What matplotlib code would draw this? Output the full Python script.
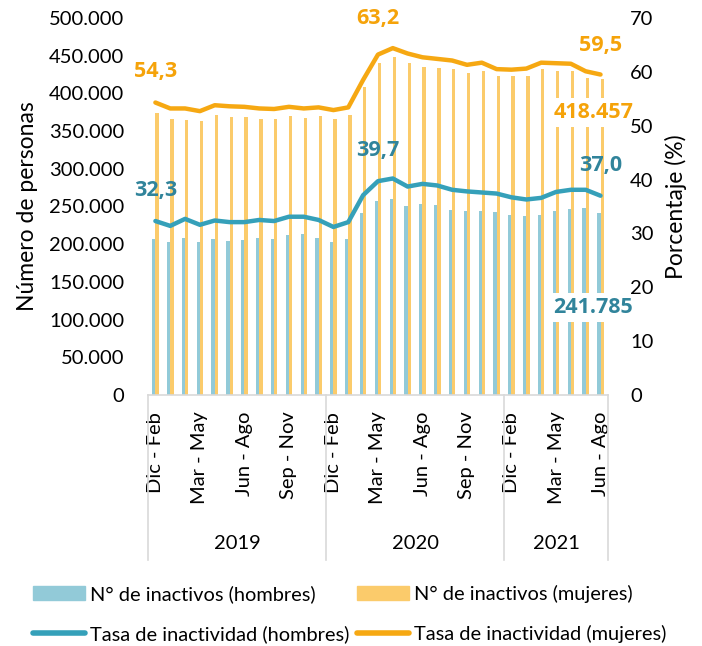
import numpy as np
import matplotlib
matplotlib.use("Agg")
import matplotlib.pyplot as plt
from matplotlib.patches import Patch
from matplotlib.lines import Line2D
from matplotlib.ticker import FuncFormatter

plt.rcParams['font.family'] = ['Lato', 'DejaVu Sans']

# moving quarters, Dic-Feb 2019 .. Jun-Ago 2021
periodos = ["Dic - Feb", "Ene - Mar", "Feb - Abr", "Mar - May", "Abr - Jun", "May - Jul",
            "Jun - Ago", "Jul - Sep", "Ago - Oct", "Sep - Nov", "Oct - Dic", "Nov - Ene"] * 2 + \
           ["Dic - Feb", "Ene - Mar", "Feb - Abr", "Mar - May", "Abr - Jun", "May - Jul", "Jun - Ago"]
anios = ["2019", "2020", "2021"]
meses_por_anio = [12, 12, 7]

inactivos_hombres = [206900, 202500, 208000, 203300, 206900, 204700, 205100, 208600, 207300, 212600,
                     213500, 208200, 202900, 207300, 241000, 257300, 260400, 251100, 253300, 252000,
                     245400, 244500, 243600, 242700, 238200, 236900, 238200, 244500, 246700, 247600,
                     241785]
inactivos_mujeres = [373600, 365600, 365200, 363000, 371400, 369100, 369100, 366000, 365600, 369600,
                     367400, 369600, 366000, 371400, 408000, 439800, 448700, 440900, 435400, 433700,
                     432400, 426600, 430200, 423100, 422600, 423500, 432400, 430200, 430200, 420800,
                     418457]
tasa_hombres = [32.3, 31.4, 32.7, 31.6, 32.4, 32.1, 32.1, 32.5, 32.3, 33.1, 33.1, 32.5, 31.2, 32.1,
                37.1, 39.7, 40.2, 38.7, 39.2, 38.9, 38.1, 37.8, 37.6, 37.4, 36.7, 36.3, 36.6, 37.7,
                38.1, 38.1, 37.0]
tasa_mujeres = [54.3, 53.2, 53.2, 52.7, 53.8, 53.6, 53.5, 53.2, 53.1, 53.5, 53.2, 53.4, 52.9, 53.4,
                58.5, 63.2, 64.4, 63.4, 62.7, 62.4, 62.1, 61.3, 61.7, 60.5, 60.4, 60.6, 61.7, 61.6,
                61.5, 60.1, 59.5]

c_bar_h = "#92CAD8"
c_bar_m = "#FBCB6B"
c_line_h = "#35A0B9"
c_line_m = "#F6A812"
c_txt_h = "#31849B"
c_txt_m = "#F5A30A"
grid_c = "#D9D9D9"

x = np.arange(len(periodos))
w = 0.22

fig = plt.figure(figsize=(7.02, 6.46), dpi=100)
ax = fig.add_axes([0.2108, 0.3885, 0.6552, 0.5837])
ax2 = ax.twinx()

ax.bar(x - w / 2, inactivos_hombres, width=w, color=c_bar_h)
ax.bar(x + w / 2, inactivos_mujeres, width=w, color=c_bar_m)
ax2.plot(x, tasa_hombres, color=c_line_h, lw=3.2, solid_capstyle='round')
ax2.plot(x, tasa_mujeres, color=c_line_m, lw=3.2, solid_capstyle='round')

ax.set_xlim(-0.5, len(periodos) - 0.5)
ax.set_ylim(0, 500000)
ax2.set_ylim(0, 70)
ax.set_yticks(np.arange(0, 500001, 50000))
ax.yaxis.set_major_formatter(FuncFormatter(lambda v, p: f"{int(v):,}".replace(",", ".")))
ax2.set_yticks(np.arange(0, 71, 10))

for a in (ax, ax2):
    for s in a.spines.values():
        s.set_visible(False)
ax.spines['bottom'].set_visible(True)
ax.spines['bottom'].set_color(grid_c)
ax.spines['bottom'].set_linewidth(1.2)

ax.tick_params(axis='y', length=0, pad=17, labelsize=14.5)
ax2.tick_params(axis='y', length=0, pad=16, labelsize=14.5)

tick_idx = [0, 3, 6, 9, 12, 15, 18, 21, 24, 27, 30]
ax.set_xticks(tick_idx)
ax.set_xticklabels([periodos[i] for i in tick_idx], rotation=90, fontsize=14.5)
ax.tick_params(axis='x', length=0, pad=12)

ax.set_ylabel("Número de personas", fontsize=16.5, labelpad=8)
ax2.set_ylabel("Porcentaje (%)", fontsize=16.5, labelpad=8)

# year grouping below the axis
bt = ax.get_xaxis_transform()
bordes = np.concatenate([[0], np.cumsum(meses_por_anio)]) - 0.5
for b in bordes:
    ax.plot([b, b], [0, -0.438], transform=bt, color=grid_c, lw=1.2, clip_on=False)
for k, anio in enumerate(anios):
    ax.text((bordes[k] + bordes[k + 1]) / 2, -0.393, anio, transform=bt,
            ha='center', va='center', fontsize=14.5)

# data labels
def etiqueta(a, i, v, txt, color, dx, dy, caja=False):
    kw = dict(bbox=dict(facecolor='white', edgecolor='none', pad=3)) if caja else {}
    a.annotate(txt, xy=(i, v), xytext=(dx, dy), textcoords='offset points',
               ha='center', va='center', fontsize=15.5, fontweight='bold', color=color,
               family=['Open Sans', 'DejaVu Sans'], **kw)

fmt = lambda v: f"{v:.1f}".replace(".", ",")
for i, dy in [(0, 22), (15, 26), (30, 21)]:
    etiqueta(ax2, i, tasa_mujeres[i], fmt(tasa_mujeres[i]), c_txt_m, 0, dy)
    etiqueta(ax2, i, tasa_hombres[i], fmt(tasa_hombres[i]), c_txt_h, 0, 22)
n = len(periodos) - 1
etiqueta(ax, n + w / 2, inactivos_mujeres[n], f"{inactivos_mujeres[n]:,}".replace(",", "."),
         c_txt_m, -6, -24, caja=True)
etiqueta(ax, n - w / 2, inactivos_hombres[n], f"{inactivos_hombres[n]:,}".replace(",", "."),
         c_txt_h, -4, -68, caja=True)

handles = [Patch(color=c_bar_h), Line2D([], [], color=c_line_h, lw=4, solid_capstyle='round'),
           Patch(color=c_bar_m), Line2D([], [], color=c_line_m, lw=4, solid_capstyle='round')]
labels = ["N° de inactivos (hombres)", "Tasa de inactividad (hombres)",
          "N° de inactivos (mujeres)", "Tasa de inactividad (mujeres)"]
fig.legend(handles, labels, ncol=2, loc='upper left', bbox_to_anchor=(0.047, 0.094),
           frameon=False, fontsize=14.4, handlelength=2.6, handletextpad=0.25,
           columnspacing=0.4, labelspacing=1.1, borderaxespad=0, borderpad=0)

fig.savefig("out.png", dpi=100)
